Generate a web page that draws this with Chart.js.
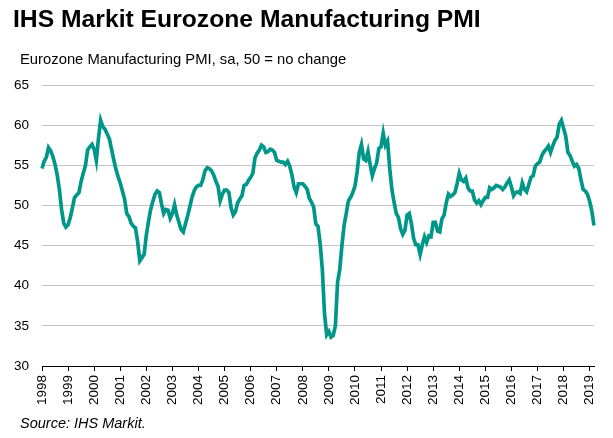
<!DOCTYPE html>
<html>
<head>
<meta charset="utf-8">
<script src="https://cdn.jsdelivr.net/npm/chart.js@4.4.1/dist/chart.umd.min.js"></script>
<style>
    body { margin: 0; background: #ffffff; }
    #wrap { position: relative; width: 613px; height: 438px; overflow: hidden; font-family: "Liberation Sans", Arial, sans-serif; color: #000; }
    #wrap canvas { position: absolute; left: 0; top: 0; }
    .txt { position: absolute; white-space: nowrap; line-height: 1; }
    .title { left: 13px; top: 7px; font-size: 24.7px; font-weight: bold; }
    .subtitle { left: 20px; top: 51.5px; font-size: 14.8px; }
    .source { left: 20px; top: 416px; font-size: 14.5px; font-style: italic; }
</style>
</head>
<body>
<div id="wrap">
    <canvas id="pmiChart" width="613" height="438"></canvas>
    <div class="txt title">IHS Markit Eurozone Manufacturing PMI</div>
    <div class="txt subtitle">Eurozone Manufacturing PMI, sa, 50 = no change</div>
    <div class="txt source">Source: IHS Markit.</div>
</div>
<script>
const years = [1998, 1999, 2000, 2001, 2002, 2003, 2004, 2005, 2006, 2007, 2008,
    2009, 2010, 2011, 2012, 2013, 2014, 2015, 2016, 2017, 2018, 2019];
const monthNames = ["Jan", "Feb", "Mar", "Apr", "May", "Jun", "Jul", "Aug", "Sep", "Oct", "Nov", "Dec"];
const yTicks = [30, 35, 40, 45, 50, 55, 60, 65];

// monthly PMI, Jan 1998 .. Mar 2019 (one row per year)
const pmi = [
    54.6, 55.5, 56.0, 57.2, 56.8, 56.1, 55.1, 53.8, 52.0, 49.5, 47.8, 47.3,
    47.6, 48.5, 49.7, 51.0, 51.3, 51.6, 53.0, 54.0, 55.0, 56.9, 57.3, 57.6,
    57.0, 55.6, 58.4, 60.6, 59.8, 59.5, 58.9, 58.3, 57.0, 55.7, 54.5, 53.6,
    52.8, 51.8, 50.8, 49.0, 48.6, 47.8, 47.4, 47.2, 45.5, 43.1, 43.5, 43.9,
    46.3, 48.0, 49.5, 50.5, 51.4, 51.8, 51.6, 50.2, 49.0, 49.5, 49.4, 48.4,
    49.0, 50.1, 48.8, 47.9, 47.0, 46.7, 47.7, 48.7, 49.8, 51.0, 51.8, 52.3,
    52.5, 52.5, 53.2, 54.3, 54.7, 54.6, 54.3, 53.8, 53.0, 52.4, 50.6, 51.4,
    51.9, 51.9, 51.6, 49.7, 48.8, 49.2, 50.3, 50.8, 51.2, 52.5, 52.6, 53.1,
    53.5, 54.0, 55.9, 56.5, 56.9, 57.5, 57.3, 56.6, 56.7, 57.0, 56.9, 56.6,
    55.6, 55.5, 55.4, 55.4, 55.1, 55.5, 54.9, 53.8, 52.3, 51.6, 52.7, 52.7,
    52.7, 52.4, 52.0, 50.9, 50.4, 49.8, 47.7, 47.4, 45.2, 42.0, 36.5, 33.9,
    34.3, 33.6, 33.8, 35.0, 40.4, 42.0, 45.0, 47.5, 49.0, 50.6, 51.0, 51.6,
    52.4, 54.2, 56.6, 57.6, 55.8, 55.6, 56.7, 55.1, 53.7, 54.6, 55.3, 57.1,
    57.3, 59.0, 57.5, 58.0, 54.6, 52.0, 50.4, 49.0, 48.5, 47.1, 46.4, 46.9,
    48.8, 49.0, 47.7, 45.9, 45.1, 45.1, 43.9, 45.1, 46.1, 45.4, 46.2, 46.1,
    47.9, 47.9, 46.8, 46.7, 48.3, 48.8, 50.3, 51.4, 51.1, 51.3, 51.6, 52.7,
    54.0, 53.2, 53.0, 53.4, 52.2, 51.8, 51.8, 50.7, 50.3, 50.6, 50.1, 50.6,
    51.0, 51.0, 52.2, 52.0, 52.2, 52.5, 52.4, 52.3, 52.0, 52.3, 52.8, 53.2,
    52.3, 51.2, 51.6, 51.7, 51.5, 52.8, 52.0, 51.7, 52.6, 53.5, 53.7, 54.9,
    55.2, 55.4, 56.2, 56.7, 57.0, 57.4, 56.6, 57.4, 58.1, 58.5, 60.1, 60.6,
    59.6, 58.6, 56.6, 56.2, 55.5, 54.9, 55.1, 54.6, 53.2, 52.0, 51.8, 51.4,
    50.5, 49.3, 47.5
];

const labels = [];
years.forEach((y) => {
    monthNames.forEach((m) => {
        if (labels.length < pmi.length) labels.push(`${m} ${y}`);
    });
});

const axisFont = { family: '"Liberation Sans", Arial, sans-serif', size: 13.5 };

new Chart(document.getElementById("pmiChart"), {
    type: "line",
    data: {
        labels: labels,
        datasets: [{
            label: "Eurozone Manufacturing PMI",
            data: pmi,
            borderColor: "#00968a",
            borderWidth: 3.7,
            pointRadius: 0,
            tension: 0,
            fill: false
        }]
    },
    options: {
        responsive: false,
        animation: false,
        devicePixelRatio: 1,
        layout: { padding: { top: 85, right: 19, bottom: 0, left: 0 } },
        plugins: {
            legend: { display: false },
            tooltip: { enabled: false }
        },
        scales: {
            x: {
                type: "category",
                offset: false,
                grid: { drawOnChartArea: false, drawTicks: true, tickLength: 5, color: "#000" },
                border: { display: true, color: "#000", width: 1 },
                ticks: {
                    autoSkip: false,
                    minRotation: 90,
                    maxRotation: 90,
                    padding: 4,
                    color: "#000",
                    font: axisFont,
                    callback: (value, index) => (index % 12 === 0 ? String(years[index / 12]) : null)
                },
                afterFit: (scale) => { scale.height = 72; }
            },
            y: {
                min: yTicks[0],
                max: yTicks[yTicks.length - 1],
                grid: { color: "#c4c4c4", lineWidth: 1, drawTicks: false },
                border: { display: false },
                ticks: { stepSize: 5, padding: 13, color: "#000", font: axisFont },
                afterFit: (scale) => { scale.width = 42; }
            }
        }
    }
});
</script>
</body>
</html>
